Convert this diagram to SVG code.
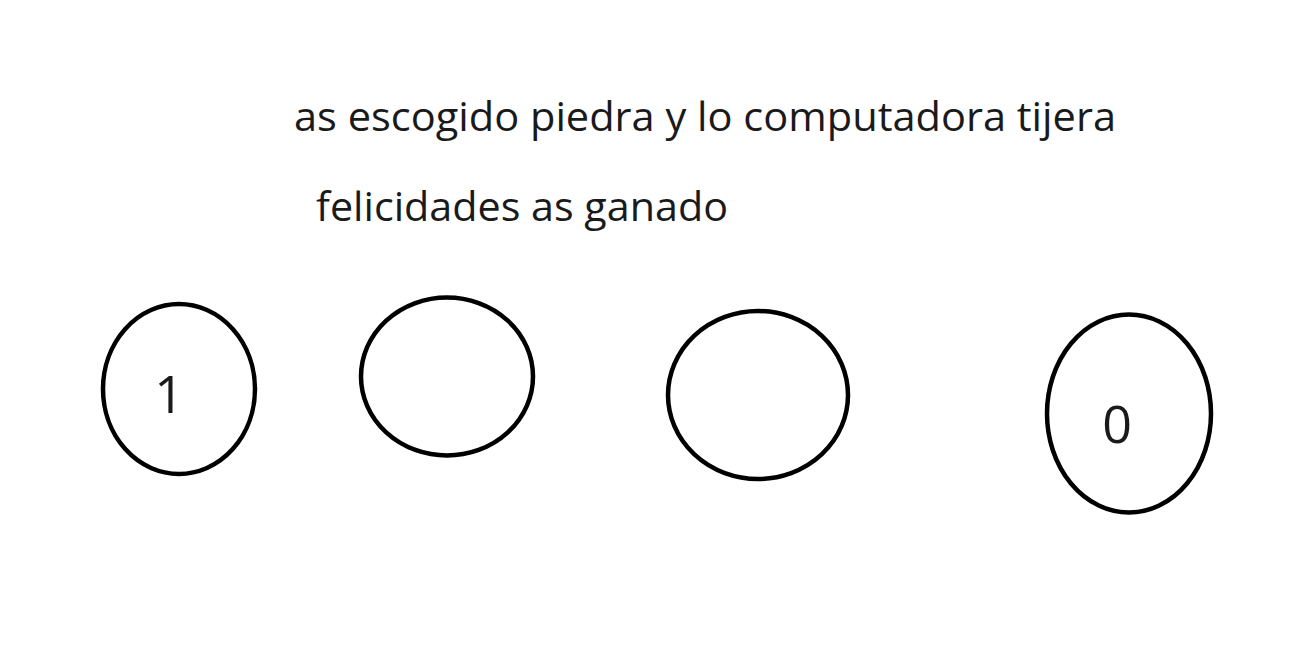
<svg xmlns="http://www.w3.org/2000/svg" width="1308" height="652" viewBox="0 0 1308 652">
<style>
.t{font-family:"Open Sans","Noto Sans","Liberation Sans",sans-serif;fill:#1a1a1a;}
.n{fill:none;stroke:#000;stroke-width:4.5;}
</style>
<rect width="1308" height="652" fill="#fff"/>
<g id="titulo">
<text class="t" x="294" y="131" font-size="41" textLength="822" lengthAdjust="spacingAndGlyphs">as escogido piedra y lo computadora tijera</text>
</g>
<g id="resultado">
<text class="t" x="316" y="221" font-size="41" textLength="412" lengthAdjust="spacingAndGlyphs">felicidades as ganado</text>
</g>
<g id="nodo1">
<ellipse class="n" cx="179" cy="389" rx="76" ry="85"/>
<text class="t" x="169" y="413" font-size="52" text-anchor="middle">1</text>
</g>
<g id="nodo2">
<ellipse class="n" cx="447" cy="376.5" rx="86" ry="79"/>
</g>
<g id="nodo3">
<ellipse class="n" cx="758" cy="395" rx="90" ry="84"/>
</g>
<g id="nodo4">
<ellipse class="n" cx="1129" cy="413.5" rx="82" ry="99"/>
<text class="t" x="1117" y="443" font-size="52" text-anchor="middle">0</text>
</g>
<g id="conectores"></g>
</svg>
